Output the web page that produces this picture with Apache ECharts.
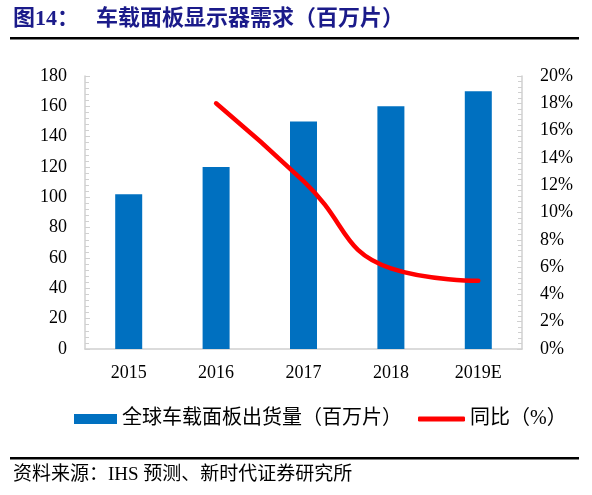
<!DOCTYPE html>
<html>
<head>
<meta charset="utf-8">
<script src="https://cdn.jsdelivr.net/npm/echarts@6/dist/echarts.min.js"></script>
<style>html,body{margin:0;padding:0;background:#fff;}#c{width:592px;height:495px;}</style>
</head>
<body>
<div id="c"></div>
<script>
var categories = ['2015', '2016', '2017', '2018', '2019E'];
var shipments = [102, 120, 150, 160, 170];
var growth = [null, 18.0, 12.3, 5.9, 5.0];
var leftTicks = {min: 0, max: 180, interval: 20};
var rightTicks = {min: 0, max: 20, interval: 2};
var barName = '全球车载面板出货量（百万片）';
var lineName = '同比（%）';

var serif = '"Liberation Serif", "Noto Sans CJK SC", serif';
var chart = echarts.init(document.getElementById('c'), null, {renderer: 'canvas'});
var axisGray = '#D0D0D0';
var legendText = {fontSize: 20, fontFamily: serif, color: '#000'};
chart.setOption({
  animation: false,
  backgroundColor: '#fff',
  graphic: [
    {type: 'text', left: 13, top: 8, style: {text: '图14：', font: 'bold 22px ' + serif, fill: '#1B1B8A'}},
    {type: 'text', left: 96, top: 8, style: {text: '车载面板显示器需求（百万片）', font: 'bold 22px ' + serif, fill: '#1B1B8A'}},
    {type: 'rect', shape: {x: 10, y: 37, width: 569, height: 2.5}, style: {fill: '#000'}},
    {type: 'rect', shape: {x: 10, y: 457, width: 569, height: 2.5}, style: {fill: '#000'}},
    {type: 'text', left: 13, top: 466, style: {text: '资料来源：IHS 预测、新时代证券研究所', font: '19px ' + serif, fill: '#000'}}
  ],
  legend: [
    {
      left: 69, top: 404,
      itemWidth: 43, itemHeight: 10,
      textStyle: legendText,
      data: [{name: barName, icon: 'rect'}]
    },
    {
      left: 413, top: 404,
      itemWidth: 47, itemHeight: 5,
      textStyle: legendText,
      data: [{name: lineName, icon: 'roundRect', itemStyle: {color: '#FF0000'}}]
    }
  ],
  grid: {left: 85, right: 70, top: 76, bottom: 146},
  xAxis: {
    type: 'category',
    data: categories,
    axisLine: {lineStyle: {color: axisGray, width: 1.5}},
    axisTick: {show: false},
    axisLabel: {color: '#000', fontSize: 18, fontFamily: serif, margin: 15}
  },
  yAxis: [
    {
      type: 'value', min: leftTicks.min, max: leftTicks.max, interval: leftTicks.interval,
      axisLine: {show: true, lineStyle: {color: axisGray, width: 1.5}},
      axisTick: {show: true, inside: true, length: 5, lineStyle: {color: axisGray}},
      minorTick: {show: true, splitNumber: 5, length: 4, lineStyle: {color: axisGray}},
      splitLine: {show: false},
      axisLabel: {color: '#000', fontSize: 18, fontFamily: serif, margin: 18}
    },
    {
      type: 'value', min: rightTicks.min, max: rightTicks.max, interval: rightTicks.interval,
      position: 'right',
      axisLine: {show: true, lineStyle: {color: axisGray, width: 1.5}},
      axisTick: {show: true, inside: true, length: 5, lineStyle: {color: axisGray}},
      minorTick: {show: true, splitNumber: 5, length: 4, lineStyle: {color: axisGray}},
      splitLine: {show: false},
      axisLabel: {color: '#000', fontSize: 18, fontFamily: serif, margin: 18, formatter: '{value}%'}
    }
  ],
  series: [
    {
      name: barName, type: 'bar', data: shipments, barWidth: 27,
      itemStyle: {color: '#0070C0'}
    },
    {
      name: lineName, type: 'line', yAxisIndex: 1, data: growth,
      smooth: 0.5, symbol: 'none', connectNulls: false,
      lineStyle: {color: '#FF0000', width: 4.5, cap: 'round'},
      itemStyle: {color: '#FF0000'}
    }
  ]
});
</script>
</body>
</html>
